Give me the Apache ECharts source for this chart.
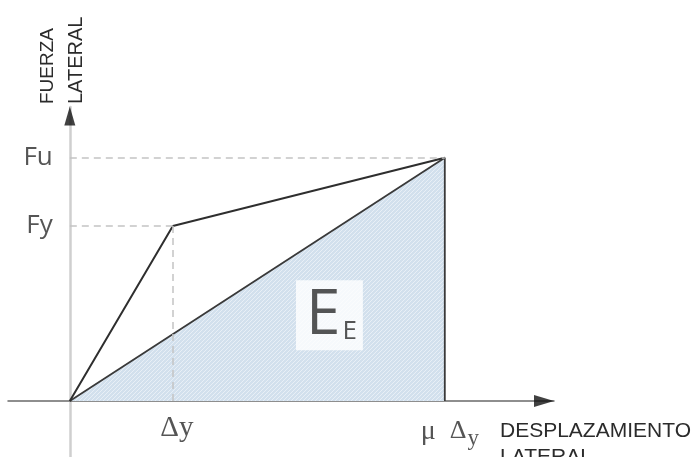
<!DOCTYPE html>
<html>
<head>
<meta charset="utf-8">
<script src="https://cdn.jsdelivr.net/npm/echarts@6/dist/echarts.min.js"></script>
<style>
  html, body { margin: 0; padding: 0; background: #fff; }
  #chart { width: 696px; height: 457px; }
</style>
</head>
<body>
<div id="chart"></div>
<script>
// Idealised bilinear capacity curve (lateral force vs lateral displacement)
const yieldDisp = 1;          // Δy
const ductility = 3.64;       // μ
const yieldForce = 1;         // Fy
const ultimateForce = 1.39;   // Fu
const ultimateDisp = ductility * yieldDisp;   // μ Δy

const capacityCurve = [[0, 0], [yieldDisp, yieldForce], [ultimateDisp, ultimateForce]];
const elasticEnergy = [[0, 0], [ultimateDisp, ultimateForce], [ultimateDisp, 0]];

const forceTicks = [{ value: ultimateForce, text: 'Fu' }, { value: yieldForce, text: 'Fy' }];
const dispTicks = [{ value: yieldDisp, text: '{d|Δy}' }, { value: ultimateDisp, text: '{m|μ  }{d2|Δ}{s|y}' }];
const energyLabelPos = [2.52, 0.49];

const xRange = [-0.6, 4.7];
const yRange = [-0.32, 1.68];

// hatched light-blue fill for the energy area
function hatch() {
  const c = document.createElement('canvas');
  c.width = 4; c.height = 4;
  const g = c.getContext('2d');
  g.fillStyle = '#d2e0ed';
  g.fillRect(0, 0, 4, 4);
  g.strokeStyle = '#e8eff6';
  g.lineWidth = 1;
  g.beginPath();
  g.moveTo(0, 4); g.lineTo(4, 0);
  g.moveTo(-1, 1); g.lineTo(1, -1);
  g.moveTo(3, 5); g.lineTo(5, 3);
  g.stroke();
  return c;
}

const sans = '"Liberation Sans", Arial, sans-serif';
const roundSans = '"Open Sans", Lato, sans-serif';
const serif = '"Liberation Serif", "DejaVu Serif", serif';
const ink = '#2b2b2b';
const dashStyle = { color: '#c4c4c4', type: [7, 5], width: 1.5 };

const chart = echarts.init(document.getElementById('chart'), null, { renderer: 'canvas' });

chart.setOption({
  animation: false,
  backgroundColor: '#fff',
  grid: { left: 8, top: 107, width: 546, height: 350 },
  xAxis: {
    type: 'value', min: xRange[0], max: xRange[1],
    splitLine: { show: false }, axisTick: { show: false }, axisLabel: { show: false },
    axisLine: { onZero: true, lineStyle: { color: '#6a6a6a', width: 1.5 } }
  },
  yAxis: {
    type: 'value', min: yRange[0], max: yRange[1],
    splitLine: { show: false }, axisTick: { show: false }, axisLabel: { show: false },
    axisLine: { onZero: true, lineStyle: { color: '#cfcfcf', width: 2.5 } }
  },
  series: [
    {
      name: 'energy', type: 'line', data: elasticEnergy, symbol: 'none', z: 2,
      lineStyle: { color: '#3a3a3a', width: 1.8 },
      areaStyle: { color: { image: hatch(), repeat: 'repeat' }, opacity: 1 },
      markLine: {
        silent: true, symbol: 'none', lineStyle: dashStyle, label: { show: false },
        data: [
          [{ coord: [0, ultimateForce] }, { coord: [ultimateDisp, ultimateForce] }],
          [{ coord: [0, yieldForce] }, { coord: [yieldDisp, yieldForce] }],
          [{ coord: [yieldDisp, 0] }, { coord: [yieldDisp, yieldForce] }]
        ]
      }
    },
    {
      name: 'capacity', type: 'line', data: capacityCurve, symbol: 'none', z: 3,
      lineStyle: { color: '#2e2e2e', width: 2 }
    },
    {
      name: 'forceTicks', type: 'scatter', symbolSize: 0, z: 4,
      data: forceTicks.map(t => ({ value: [0, t.value], name: t.text })),
      label: {
        show: true, position: 'left', distance: 17, formatter: p => p.name,
        fontFamily: roundSans, fontSize: 26, color: ink
      }
    },
    {
      name: 'dispTicks', type: 'scatter', symbolSize: 0, z: 4,
      data: [
        { value: [dispTicks[0].value, 0], name: dispTicks[0].text,
          label: { align: 'center', offset: [4, 0], distance: 13 } },
        { value: [dispTicks[1].value, 0], name: dispTicks[1].text,
          label: { align: 'left', offset: [-24, 0], distance: 12 } }
      ],
      label: {
        show: true, position: 'bottom', formatter: p => p.name,
        rich: {
          d: { fontFamily: serif, fontSize: 29, color: ink },
          m: { fontFamily: serif, fontSize: 28, color: ink },
          d2: { fontFamily: serif, fontSize: 26, color: ink },
          s: { fontFamily: serif, fontSize: 23, color: ink, padding: [14, 0, 0, 1] }
        }
      }
    },
    {
      name: 'energyLabel', type: 'scatter', symbolSize: 0, z: 5,
      data: [{ value: energyLabelPos, name: 'E' }],
      label: {
        show: true, position: 'inside', formatter: '{b|E}{s|E}',
        backgroundColor: '#ffffff', padding: [4, 6, 2, 10],
        rich: {
          b: { fontFamily: roundSans, fontSize: 62, color: ink, lineHeight: 64 },
          s: { fontFamily: roundSans, fontSize: 26, color: ink, padding: [30, 0, 0, 2] }
        }
      }
    },
    {
      name: 'arrows', type: 'scatter', z: 6, silent: true,
      data: [
        { value: [0, yRange[1]], symbolSize: [11, 19], symbolRotate: 0, symbolOffset: [0, 9] },
        { value: [xRange[1], 0], symbolSize: [12, 20], symbolRotate: -90, symbolOffset: [-10, 0] }
      ],
      symbol: 'triangle',
      itemStyle: { color: '#111' }
    }
  ],
  graphic: [
    // vertical axis title, read bottom to top
    { type: 'text', x: 57, y: 104, rotation: Math.PI / 2,
      style: { text: 'FUERZA', font: '19px ' + sans, fill: ink, textAlign: 'left', textVerticalAlign: 'bottom' } },
    { type: 'text', x: 86, y: 104, rotation: Math.PI / 2,
      style: { text: 'LATERAL', font: '20px ' + sans, fill: ink, textAlign: 'left', textVerticalAlign: 'bottom' } },
    // horizontal axis title
    { type: 'text', x: 500, y: 418,
      style: { text: 'DESPLAZAMIENTO\nLATERAL', font: '21px ' + sans, fill: ink, lineHeight: 26 } }
  ]
});
</script>
</body>
</html>
